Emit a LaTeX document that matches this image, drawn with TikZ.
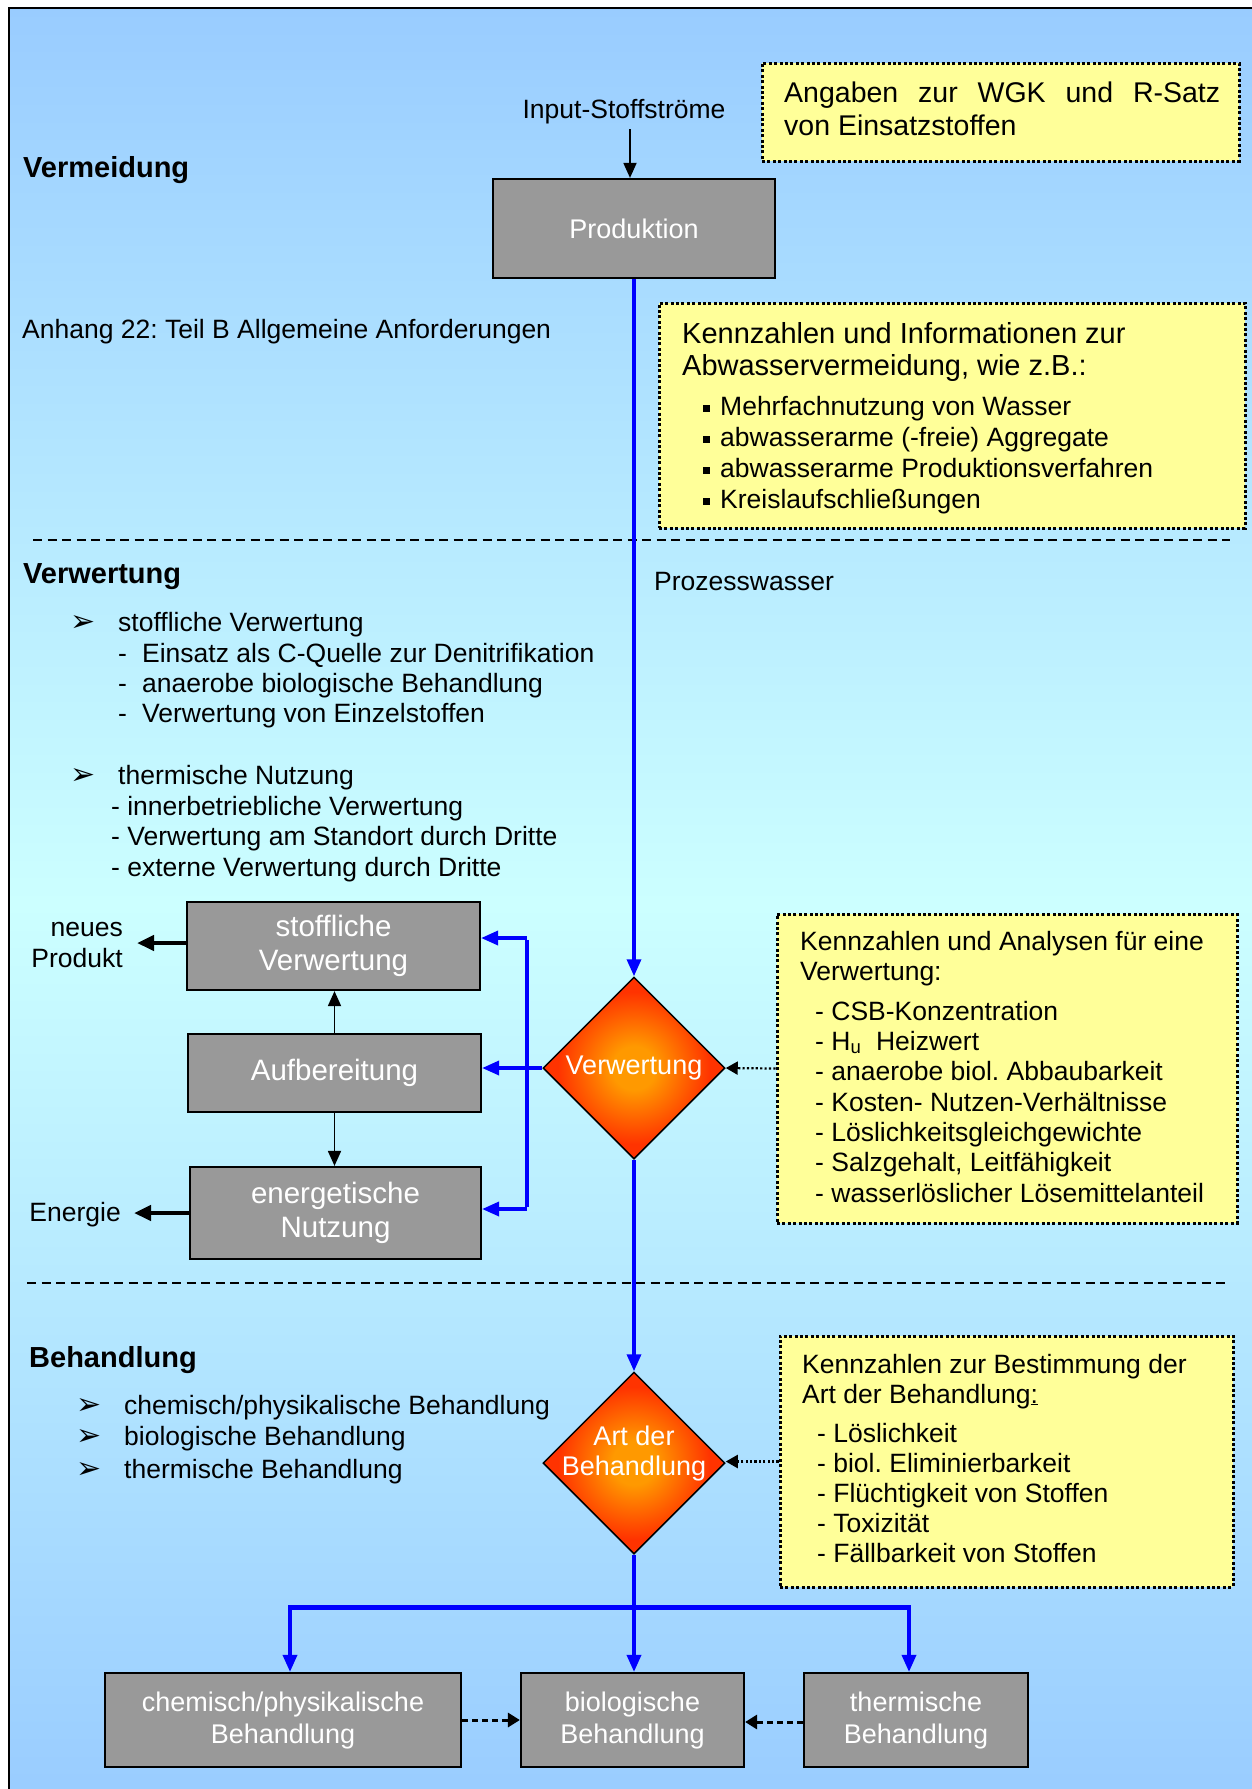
\documentclass[tikz,border=0pt]{standalone}
\usepackage{fontspec}
\setmainfont{Liberation Sans}
\newfontfamily\symfont{DejaVu Sans}
\usetikzlibrary{shapes.geometric,arrows.meta}
\definecolor{bgblue}{RGB}{153,204,255}
\definecolor{bgcyan}{RGB}{204,255,255}
\definecolor{boxgray}{RGB}{153,153,153}
\definecolor{noteyellow}{RGB}{255,255,153}
\definecolor{dorange}{RGB}{255,153,0}
\definecolor{dred}{RGB}{255,51,0}
\definecolor{flowblue}{RGB}{0,0,255}
\pgfdeclareradialshading{diashade}{\pgfpoint{0bp}{0bp}}{color(0bp)=(dorange); color(6bp)=(dorange); color(21bp)=(dred); color(50bp)=(dred)}
\newcommand\fnorm{\fontsize{26.5}{31}\selectfont}
\newcommand\fbig{\fontsize{29}{33}\selectfont}
\newcommand\fhead{\fontsize{29}{33}\selectfont\bfseries}
\newcommand\flab{\fontsize{27}{32}\selectfont}
\newcommand\flabbig{\fontsize{29.5}{34}\selectfont}
\newcommand\arrbul{{\symfont\fontsize{30}{34}\selectfont ➢}}
\newcommand\sqbul{\raisebox{3.5pt}{\rule{7pt}{7pt}}\hspace{10pt}}
\frenchspacing
\begin{document}
\frenchspacing
\begin{tikzpicture}[x=1pt,y=-1pt,
  graybox/.style={draw=black, line width=2.2pt, fill=boxgray, text=white, font=\flab, align=center, inner sep=0pt},
  notebox/.style={draw=black, fill=noteyellow, line width=3pt, dash pattern=on 3pt off 2.4pt, inner sep=0pt},
  decision/.style={diamond, draw=black, line width=1.5pt, shade, shading=diashade, minimum width=182pt, minimum height=182pt, inner sep=0pt, aspect=1, text=white, font=\flab},
  txt/.style={anchor=base west, inner sep=0pt, font=\fnorm},
  bigtxt/.style={anchor=base west, inner sep=0pt, font=\fbig},
  headtxt/.style={anchor=base west, inner sep=0pt, font=\fhead},
  bultxt/.style={anchor=base west, inner sep=0pt},
  flow/.style={draw=flowblue, line width=3.5pt, -{Triangle[length=17pt,width=14pt]}},
  flowline/.style={draw=flowblue, line width=3.5pt},
  busline/.style={draw=flowblue, line width=5pt},
  thinarrow/.style={draw=black, line width=1.8pt, -{Triangle[length=15pt,width=13pt]}},
  thickarrow/.style={draw=black, line width=4.5pt, -{Triangle[length=17pt,width=15pt]}},
  dotarrow/.style={draw=black, line width=2.2pt, dash pattern=on 2.2pt off 2.2pt, -{Triangle[length=12pt,width=13pt]}},
  dasharrow/.style={draw=black, line width=3pt, dash pattern=on 6pt off 4pt, -{Triangle[length=12pt,width=14pt]}},
  sepline/.style={draw=black, line width=1.6pt, dash pattern=on 9pt off 5.5pt}
]
\useasboundingbox (0,0) rectangle (1252,1789);
\fill[white] (0,0) rectangle (1252,1789);
\shade[top color=bgblue, bottom color=bgblue, middle color=bgcyan] (9,8) rectangle (1262,1800);
\draw[line width=2pt] (9,1800) -- (9,8) -- (1262,8);

% separators
\draw[sepline] (33,540) -- (1230,540);
\draw[sepline] (27,1283) -- (1225,1283);

% ---------- Vermeidung ----------
\node[headtxt] (hverm) at (23,177) {Vermeidung};
\node[anchor=base, inner sep=0pt, font=\fnorm] (inp) at (624,118) {Input-Stoffströme};
\node[graybox, minimum width=282pt, minimum height=99pt] (prod) at (634,228.5) {Produktion};
\coordinate (inarrow) at (630,129);
\draw[thinarrow] (inarrow) -- (inarrow |- prod.north);

\node[notebox, minimum width=477pt, minimum height=98pt] (yb1) at (1000.5,112) {};
\node[anchor=base west, inner sep=0pt, font=\fontsize{28.5}{33}\selectfont] (yb1a) at (784,102) {\makebox[436pt][s]{Angaben zur WGK und R-Satz}};
\node[anchor=base west, inner sep=0pt, font=\fontsize{28.5}{33}\selectfont] (yb1b) at (784,135) {von Einsatzstoffen};

\node[txt] (anh) at (22,338) {Anhang 22: Teil B Allgemeine Anforderungen};

\node[notebox, minimum width=586pt, minimum height=225pt] (yb2) at (952,415.5) {};
\node[bigtxt] (yb2a) at (682,343) {Kennzahlen und Informationen zur};
\node[bigtxt] (yb2b) at (682,375) {Abwasservermeidung, wie z.B.:};
\node[txt] (yb2c) at (703,415) {\sqbul Mehrfachnutzung von Wasser};
\node[txt] (yb2d) at (703,446) {\sqbul abwasserarme (-freie) Aggregate};
\node[txt] (yb2e) at (703,477) {\sqbul abwasserarme Produktionsverfahren};
\node[txt] (yb2f) at (703,508) {\sqbul Kreislaufschließungen};

% ---------- Verwertung ----------
\node[headtxt] (hverw) at (23,583) {Verwertung};
\node[txt] (pw) at (654,590) {Prozesswasser};

\node[bultxt] (b1) at (70,631) {\arrbul};
\node[txt] (l1) at (118,631) {stoffliche Verwertung};
\node[txt] (l2) at (118,662) {\makebox[24pt][l]{-}Einsatz als C-Quelle zur Denitrifikation};
\node[txt] (l3) at (118,692) {\makebox[24pt][l]{-}anaerobe biologische Behandlung};
\node[txt] (l4) at (118,722) {\makebox[24pt][l]{-}Verwertung von Einzelstoffen};
\node[bultxt] (b2) at (70,784) {\arrbul};
\node[txt] (l5) at (118,784) {thermische Nutzung};
\node[txt] (l6) at (111,815) {- innerbetriebliche Verwertung};
\node[txt] (l7) at (111,845) {- Verwertung am Standort durch Dritte};
\node[txt] (l8) at (111,876) {- externe Verwertung durch Dritte};

\node[graybox, font=\flabbig, minimum width=293pt, minimum height=88pt] (stoff) at (333.5,946) {stoffliche\\Verwertung};
\node[graybox, font=\flabbig, minimum width=293pt, minimum height=78pt] (aufb) at (334.5,1073) {Aufbereitung};
\node[graybox, font=\flabbig, minimum width=291pt, minimum height=92pt] (energ) at (335.5,1213) {energetische\\Nutzung};

\node[anchor=east, inner sep=0pt, font=\fnorm, align=right] (neu) at (123,945) {neues\\Produkt};
\node[anchor=base east, inner sep=0pt, font=\fnorm] (ener) at (121,1221) {Energie};
\coordinate (npend) at (137,943);
\coordinate (enend) at (134,1213);
\draw[thickarrow] (stoff.west |- npend) -- (npend);
\draw[thickarrow] (energ.west) -- (enend);
\draw[thinarrow] (aufb.north) -- (aufb.north |- stoff.south);
\draw[thinarrow] (aufb.south) -- (aufb.south |- energ.north);

\node[decision] (verw) at (634,1068) {Verwertung};
\draw[flow] (prod.south -| verw.north) -- (verw.north);
\draw[flow] (verw.west) -- (verw.west -| aufb.east);
\coordinate (bt) at (527,938);
\coordinate (bb) at (527,1209);
\draw[flowline] ([yshift=-1.75pt]bt) -- ([yshift=1.75pt]bb);
\draw[flow] (bt) -- (bt -| stoff.east);
\draw[flow] (bb) -- (bb -| energ.east);

\node[notebox, minimum width=460pt, minimum height=309pt] (yb3) at (1007,1068.5) {};
\node[txt] (k1) at (800,950) {Kennzahlen und Analysen für eine};
\node[txt] (k2) at (800,980) {Verwertung:};
\node[txt] (k3) at (815,1020) {- CSB-Konzentration};
\node[txt] (k4) at (815,1050) {- H\textsubscript{u}\ \ Heizwert};
\node[txt] (k5) at (815,1080) {- anaerobe biol. Abbaubarkeit};
\node[txt] (k6) at (815,1111) {- Kosten- Nutzen-Verhältnisse};
\node[txt] (k7) at (815,1141) {- Löslichkeitsgleichgewichte};
\node[txt] (k8) at (815,1171) {- Salzgehalt, Leitfähigkeit};
\node[txt] (k9) at (815,1202) {- wasserlöslicher Lösemittelanteil};
\draw[dotarrow] (yb3.west) -- (verw.east);

% ---------- Behandlung ----------
\node[headtxt] (hbeh) at (29,1367) {Behandlung};
\node[bultxt] (b3) at (76,1414) {\arrbul};
\node[txt] (m1) at (124,1414) {chemisch/physikalische Behandlung};
\node[bultxt] (b4) at (76,1445) {\arrbul};
\node[txt] (m2) at (124,1445) {biologische Behandlung};
\node[bultxt] (b5) at (76,1478) {\arrbul};
\node[txt] (m3) at (124,1478) {thermische Behandlung};

\node[decision] (art) at (634,1463) {};
\node[inner sep=0pt, font=\flab, text=white, align=center] (artlbl) at (634,1453) {Art der\\[-2pt]Behandlung};
\draw[flow] (verw.south) -- (art.north);

\node[notebox, minimum width=453pt, minimum height=251pt] (yb4) at (1006.5,1461.5) {};
\node[txt] (n1) at (802,1373) {Kennzahlen zur Bestimmung der};
\node[txt] (n2) at (802,1403) {Art der Behandlung\underline{:}};
\node[txt] (n3) at (817,1442) {- Löslichkeit};
\node[txt] (n4) at (817,1472) {- biol. Eliminierbarkeit};
\node[txt] (n5) at (817,1502) {- Flüchtigkeit von Stoffen};
\node[txt] (n6) at (817,1532) {- Toxizität};
\node[txt] (n7) at (817,1562) {- Fällbarkeit von Stoffen};
\draw[dotarrow] (yb4.west) -- (yb4.west -| art.east);

\node[graybox, minimum width=356pt, minimum height=94pt] (chem) at (283,1720) {chemisch/physikalische\\Behandlung};
\node[graybox, minimum width=223pt, minimum height=94pt] (bio) at (632.5,1720) {biologische\\Behandlung};
\node[graybox, minimum width=224pt, minimum height=94pt] (therm) at (916,1720) {thermische\\Behandlung};

\coordinate (c1) at (290,1607);
\coordinate (c3) at (909,1607);
\draw[flow] (art.south) -- (art.south |- bio.north);
\draw[busline] ([xshift=-1.75pt]c1) -- ([xshift=1.75pt]c3);
\draw[flow] (c1) -- (c1 |- chem.north);
\draw[flow] (c3) -- (c3 |- therm.north);

\draw[dasharrow] (chem.east) -- (bio.west);
\draw[dasharrow] ([yshift=-2pt]therm.west) -- ([yshift=-2pt]bio.east);
\end{tikzpicture}
\end{document}
